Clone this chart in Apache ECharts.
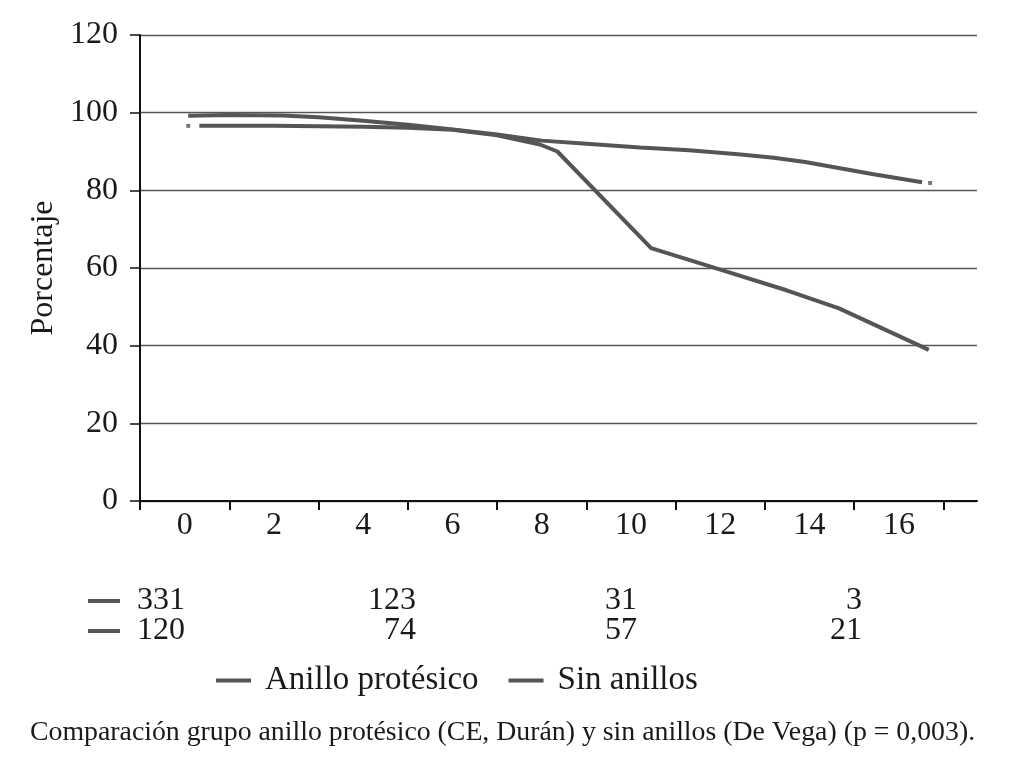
<!DOCTYPE html>
<html><head><meta charset="utf-8">
<script src="https://cdn.jsdelivr.net/npm/echarts@6/dist/echarts.min.js"></script>
<style>html,body{margin:0;padding:0;background:#fff}#c{width:1012px;height:758px}</style>
</head><body><div id="c"></div>
<script>
// ---- data ----
const seriesNames = ['Anillo protésico', 'Sin anillos'];
const anilloData = [[0.08,99.2],[1,99.4],[2.2,99.3],[3,98.8],[4,97.9],[5,96.9],[6,95.7],[7,94.4],[8,92.8],[9,92.0],[10.2,91.0],[11.3,90.3],[12.4,89.3],[13.2,88.4],[13.9,87.3],[15.4,84.2],[16.52,82.1]];
const sinData = [[0.33,96.6],[2,96.6],[4,96.4],[5,96.1],[6,95.6],[7,94.2],[7.96,91.8],[8.35,90.0],[10.45,65.1],[12,59.6],[13.5,54.2],[14.66,49.6],[16.67,38.9]];
const markDots = [[0.08,96.6],[16.7,81.9]];
const xLabelValues = [0,2,4,6,8,10,12,14,16];
const xTickValues = [-1,1,3,5,7,9,11,13,15,17];
const atRiskAnillo = ['331','123','31','3'];
const atRiskSin = ['120','74','57','21'];
const yAxisName = 'Porcentaje';
const caption = 'Comparación grupo anillo protésico (CE, Durán) y sin anillos (De Vega) (p = 0,003).';

// ---- layout ----
const FONT = 'Liberation Serif';
const TXT = '#1a1a1a';
const LINE = '#555555';
const colRight = [185, 416, 637, 862];
const rowY = [601, 631];

const chart = echarts.init(document.getElementById('c'), null, {renderer: 'canvas'});

const graphics = [];
[atRiskAnillo, atRiskSin].forEach((row, r) => {
  graphics.push({type: 'rect', shape: {x: 88, y: rowY[r] - 2, width: 32, height: 4}, style: {fill: LINE}});
  row.forEach((v, i) => {
    graphics.push({type: 'text', x: colRight[i], y: rowY[r],
      style: {text: v, font: '32px "' + FONT + '"', fill: TXT, textAlign: 'right', textVerticalAlign: 'middle'}});
  });
});

chart.setOption({
  animation: false,
  backgroundColor: '#fff',
  title: {text: caption, left: 30, top: 719, padding: 0,
    textStyle: {fontFamily: FONT, fontSize: 27.8, fontWeight: 'normal', color: TXT}},
  legend: {left: 216, top: 664, padding: 0, data: seriesNames, icon: 'rect', itemWidth: 35, itemHeight: 4, itemGap: 30,
    textStyle: {fontFamily: FONT, fontSize: 33, color: TXT, padding: [0, 0, 0, 9]}},
  grid: {left: 140, right: 35, top: 35, bottom: 257, containLabel: false},
  xAxis: {type: 'value', min: -1, max: 17.75,
    axisLine: {onZero: false, lineStyle: {color: '#111', width: 2}},
    axisTick: {show: true, customValues: xTickValues, length: 9, lineStyle: {color: '#111', width: 2}},
    axisLabel: {customValues: xLabelValues, fontFamily: FONT, fontSize: 32, color: TXT, margin: 9},
    splitLine: {show: false}},
  yAxis: {type: 'value', min: 0, max: 120, interval: 20,
    name: yAxisName, nameLocation: 'middle', nameRotate: 90, nameGap: 80,
    nameTextStyle: {fontFamily: FONT, fontSize: 32, color: TXT},
    axisLine: {show: true, onZero: false, lineStyle: {color: '#111', width: 2}},
    axisTick: {show: true, length: 10, lineStyle: {color: '#111', width: 1.5}},
    axisLabel: {fontFamily: FONT, fontSize: 32, color: TXT, margin: 22},
    splitLine: {show: true, lineStyle: {color: LINE, width: 1.3}}},
  series: [
    {name: seriesNames[0], type: 'line', data: anilloData, showSymbol: false, symbol: 'none',
      lineStyle: {color: LINE, width: 4}, itemStyle: {color: LINE}},
    {name: seriesNames[1], type: 'line', data: sinData, showSymbol: false, symbol: 'none',
      lineStyle: {color: LINE, width: 4}, itemStyle: {color: LINE}},
    {name: 'marks', type: 'scatter', data: markDots, symbol: 'rect', symbolSize: 4,
      itemStyle: {color: LINE}, silent: true}
  ],
  graphic: graphics
});
</script></body></html>
